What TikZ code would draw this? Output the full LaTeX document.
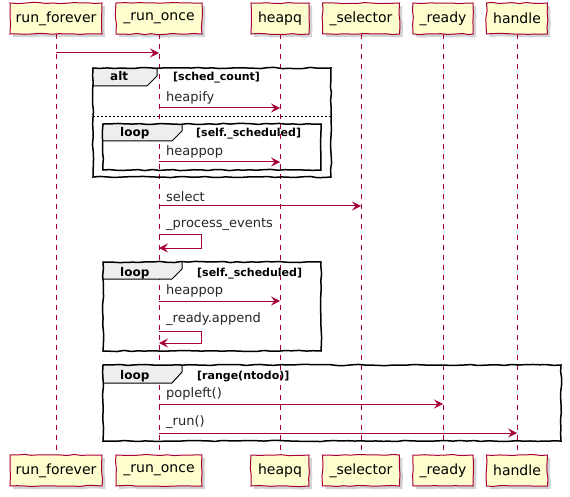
\documentclass[tikz,border=0pt]{standalone}
\usepackage{fontspec}
\setmainfont{DejaVu Sans}
\usetikzlibrary{arrows.meta,shadows,decorations.pathmorphing}
\definecolor{pred}{HTML}{A80036}
\definecolor{pyel}{HTML}{FEFECE}
\definecolor{pgray}{HTML}{EEEEEE}
\pgfmathsetseed{7}
\tikzset{
  hand/.style={decorate,decoration={random steps,segment length=7pt,amplitude=0.6pt}},
  part/.style={draw=pred, fill=pyel, line width=1pt, minimum height=31pt, inner sep=0pt,
    font=\fontsize{14}{16}\selectfont, hand,
    drop shadow={shadow xshift=3pt, shadow yshift=-3pt, opacity=0.35, fill=gray}},
  lifeline/.style={draw=pred, line width=0.8pt, dash pattern=on 5pt off 5pt},
  msg/.style={draw=pred, line width=1pt, -{Stealth[length=9pt,width=9pt,inset=3.5pt]}},
  lbl/.style={anchor=south west, inner sep=0pt, font=\fontsize{13}{15}\selectfont, text=black!85},
  framebox/.style={draw=black, line width=1.5pt, hand},
  tab/.style={draw=black, line width=1pt, fill=pgray},
  fkey/.style={anchor=base west, inner sep=0pt, font=\bfseries\fontsize{12}{14}\selectfont},
  fcond/.style={anchor=base west, inner sep=0pt, font=\bfseries\fontsize{11}{13}\selectfont},
  sep/.style={draw=black, line width=1pt, dash pattern=on 2pt off 2pt}
}
\begin{document}
\begin{tikzpicture}[x=1pt,y=-1pt]
\useasboundingbox (0,0) rectangle (570,497);
% participants (top)
\node[part, minimum width=92pt] (ro) at (56,18.5) {run\_forever};
\node[part, minimum width=86pt] (on) at (159,18.5) {\_run\_once};
\node[part, minimum width=58pt] (hq) at (280,18.5) {heapq};
\node[part, minimum width=77pt] (se) at (361,18.5) {\_selector};
\node[part, minimum width=60pt] (rd) at (443,18.5) {\_ready};
\node[part, minimum width=61pt] (ha) at (517,18.5) {handle};
% participants (bottom)
\node[part, minimum width=92pt] (rob) at (56,470.5) {run\_forever};
\node[part, minimum width=86pt] (onb) at (159,470.5) {\_run\_once};
\node[part, minimum width=58pt] (hqb) at (280,470.5) {heapq};
\node[part, minimum width=77pt] (seb) at (361,470.5) {\_selector};
\node[part, minimum width=60pt] (rdb) at (443,470.5) {\_ready};
\node[part, minimum width=61pt] (hab) at (517,470.5) {handle};
% lifelines
\foreach \a/\b in {ro/rob,on/onb,hq/hqb,se/seb,rd/rdb,ha/hab}
  \draw[lifeline] (\a.south) -- (\b.north);

% first call
\draw[msg] (ro |- 0,53) -- (on |- 0,53);

% alt frame
\fill[pgray] (93,68) -- (157,68) -- (157,76) -- (147,86) -- (93,86) -- cycle;
\draw[line width=1pt] (157,68) -- (157,76) -- (147,86) -- (93,86);
\draw[framebox] (93,68) rectangle (331,177);
\node[fkey] (altk) at (110,81) {alt};
\node[fcond] (altc) at (173,81) {[sched\_count]};
\node[lbl] (l1) at (166,104) {heapify};
\draw[msg] (on |- 0,108) -- (hq |- 0,108);
\draw[sep] (93,117) -- (331,117);
% inner loop
\fill[pgray] (103,124) -- (182,124) -- (182,131) -- (172,141) -- (103,141) -- cycle;
\draw[line width=1pt] (182,124) -- (182,131) -- (172,141) -- (103,141);
\draw[framebox] (103,124) rectangle (321,170);
\node[fkey] (lk1) at (120,137) {loop};
\node[fcond] (lc1) at (196,137) {[self.\_scheduled]};
\node[lbl] (l2) at (166,158) {heappop};
\draw[msg] (on |- 0,162) -- (hq |- 0,162);

% select
\node[lbl] (l3) at (166,202) {select};
\draw[msg] (on |- 0,206) -- (se |- 0,206);
% process events
\node[lbl] (l4) at (166,231) {\_process\_events};
\coordinate (pe1) at (201,234);
\coordinate (pe2) at (201,248);
\draw[msg] (on |- 0,234) -- (pe1) -- (pe2) -- (on |- 0,248);

% loop 2
\fill[pgray] (103,262) -- (182,262) -- (182,269) -- (172,279) -- (103,279) -- cycle;
\draw[line width=1pt] (182,262) -- (182,269) -- (172,279) -- (103,279);
\draw[framebox] (103,262) rectangle (321,351);
\node[fkey] (lk2) at (120,276) {loop};
\node[fcond] (lc2) at (197,276) {[self.\_scheduled]};
\node[lbl] (l5) at (166,297) {heappop};
\draw[msg] (on |- 0,301) -- (hq |- 0,301);
\node[lbl] (l6) at (166,326) {\_ready.append};
\coordinate (ra1) at (201,331);
\coordinate (ra2) at (201,343);
\draw[msg] (on |- 0,331) -- (ra1) -- (ra2) -- (on |- 0,343);

% loop 3
\fill[pgray] (103,365) -- (182,365) -- (182,372) -- (172,383) -- (103,383) -- cycle;
\draw[line width=1pt] (182,365) -- (182,372) -- (172,383) -- (103,383);
\draw[framebox] (103,365) rectangle (561,441);
\node[fkey] (lk3) at (120,379) {loop};
\node[fcond] (lc3) at (197,379) {[range(ntodo)]};
\node[lbl] (l7) at (166,400) {popleft()};
\draw[msg] (on |- 0,404) -- (rd |- 0,404);
\node[lbl] (l8) at (166,429) {\_run()};
\draw[msg] (on |- 0,433) -- (ha |- 0,433);
\end{tikzpicture}
\end{document}
